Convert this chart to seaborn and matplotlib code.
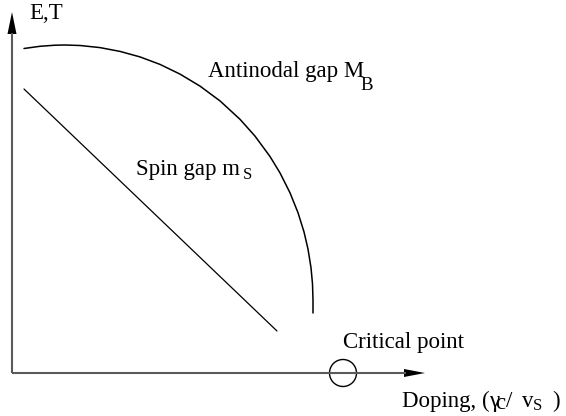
import matplotlib
matplotlib.use("Agg")
import matplotlib.pyplot as plt
import seaborn as sns
import pandas as pd
from matplotlib.patches import Polygon, Circle

sns.set_theme(style="white")
plt.rcParams['font.family'] = ['Liberation Serif', 'DejaVu Serif']

# ---- data (doping units along x, energy units along y) ----
antinodal_doping = [12, 28, 43, 53, 68, 88, 108, 128, 148, 168, 188, 208, 228, 243,
                    258, 268, 278, 286, 292, 296, 299, 300.5, 301, 301]
antinodal_energy = [324.5, 326.7, 327.8, 328, 327.5, 325.4, 321.6, 316.1, 308.6, 298.9,
                    286.9, 272.1, 253.7, 236.9, 216.5, 200.1, 180.2, 160.3, 141.1, 123.9,
                    105.3, 89.2, 73, 60]

spin_doping = [12, 265]
spin_energy = [284, 42]

critical_doping = 331
critical_energy = 0

df_a = pd.DataFrame({"doping": antinodal_doping, "E": antinodal_energy})
df_s = pd.DataFrame({"doping": spin_doping, "E": spin_energy})

fig = plt.figure(figsize=(5.66, 4.16), dpi=100)
ax = fig.add_axes([0, 0, 1, 1])
ax.set_xlim(-12, 554)
ax.set_ylim(-43, 373)
ax.axis("off")

# axes with arrows
axis_col = "#5a5a5a"
ax.plot([0, 0], [0, 340], color=axis_col, lw=1.5, solid_capstyle="butt")
ax.plot([0, 394], [0, 0], color=axis_col, lw=1.5, solid_capstyle="butt")
ax.add_patch(Polygon([(0, 361), (-4.5, 339), (4.5, 339)], closed=True, color="black", lw=0))
ax.add_patch(Polygon([(413, 0), (392, 4), (392, -4)], closed=True, color="black", lw=0))

# curves
sns.lineplot(data=df_a, x="doping", y="E", sort=False, estimator=None, color="black",
             lw=1.1, solid_joinstyle="round", ax=ax)
sns.lineplot(data=df_s, x="doping", y="E", sort=False, estimator=None, color="black",
             lw=0.9, ax=ax)

# critical point
ax.add_patch(Circle((critical_doping, critical_energy), 13.5, fill=False, ec="black", lw=1.0))

def px(x, y):
    return x - 12, 373 - y

fs = 16.5
fss = 12
kw = dict(color="black", va="baseline", ha="left")
ax.text(*px(29, 19), "E,T", fontsize=fs, **kw)
ax.text(*px(208, 77), "Antinodal gap M", fontsize=fs, **kw)
ax.text(*px(360, 90), "B", fontsize=13.5, **kw)
ax.text(*px(136, 175), "Spin gap m", fontsize=fs, **kw)
ax.text(*px(243, 179), "S", fontsize=fss, **kw)
ax.text(*px(343, 348), "Critical point", fontsize=fs, **kw)
ax.text(*px(402, 407), "Doping, (", fontsize=fs, **kw)
ax.text(*px(489, 407), "γ", fontsize=fs, **kw)
ax.text(*px(495, 409), "c", fontsize=fs, **kw)
ax.text(*px(506, 407), "/", fontsize=fs, **kw)
ax.text(*px(522, 407), "v", fontsize=fs, **kw)
ax.text(*px(533, 410), "S", fontsize=fss, **kw)
ax.text(*px(552, 407), ")", fontsize=fs, **kw)

fig.savefig("out.png", dpi=100)
